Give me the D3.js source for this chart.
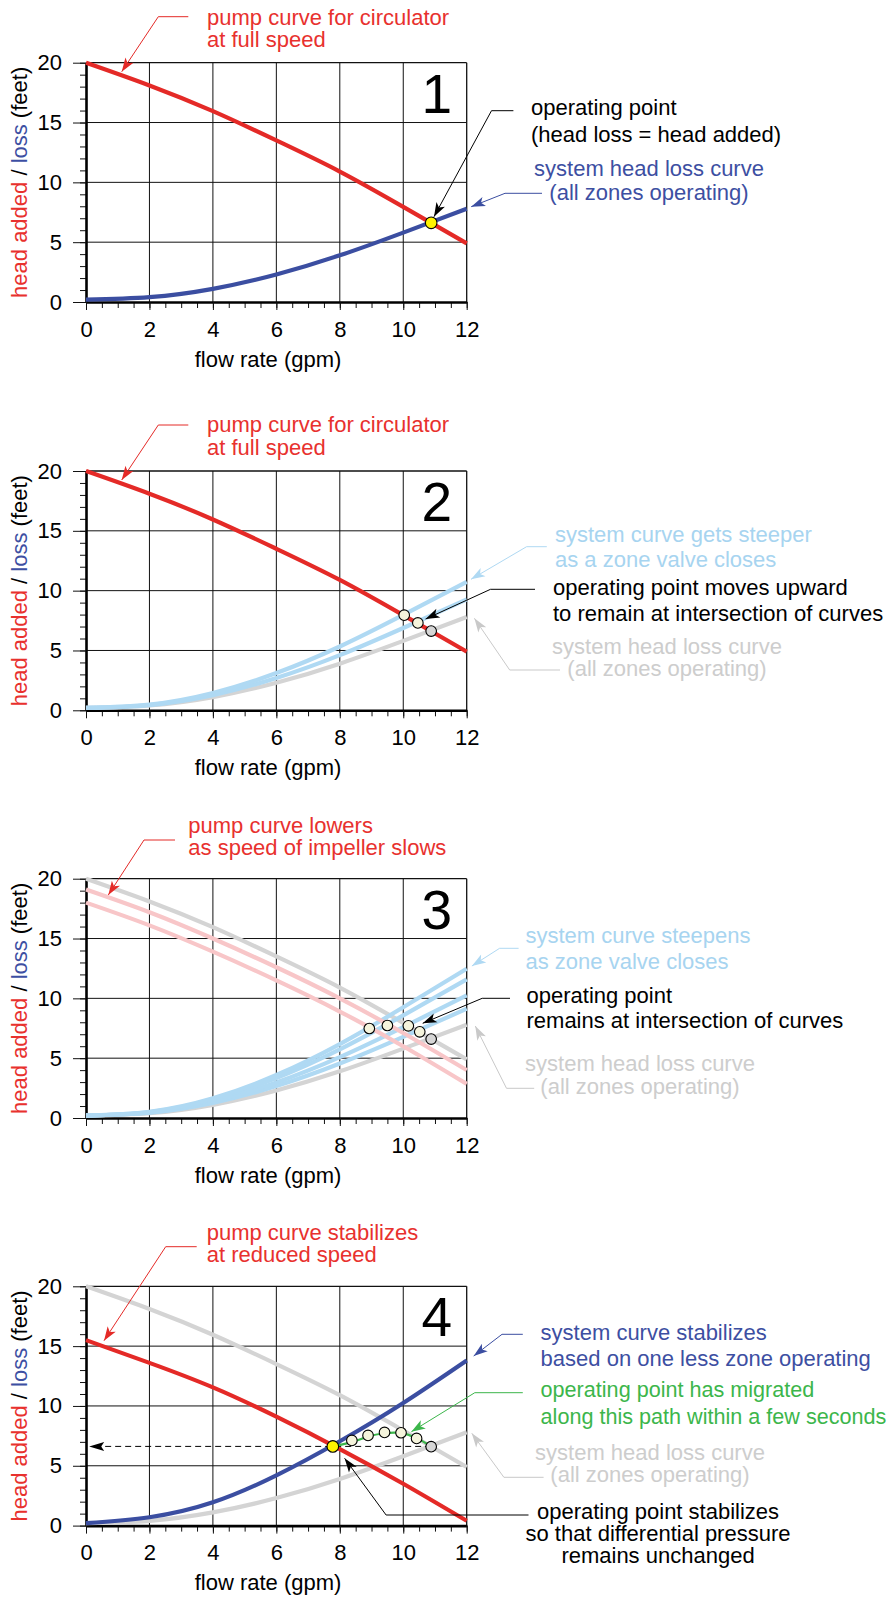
<!DOCTYPE html>
<html><head><meta charset="utf-8">
<script src="https://cdn.jsdelivr.net/npm/d3@7"></script>
<style>
body{margin:0;background:#fff}
text{font-family:"Liberation Sans", Arial, Helvetica, sans-serif;}
</style>
</head><body>
<svg id="c" width="891" height="1597"></svg>
<script>
// ---------------- data ----------------
const flow = [0, 2, 4, 6, 8, 10, 12];
const xTicks = [0, 2, 4, 6, 8, 10, 12];
const yTicks = [0, 5, 10, 15, 20];
const pumpFull    = [20, 18.1, 15.95, 13.5, 10.9, 7.95, 4.9];
const pumpSlow1   = [19.1, 17.2, 15.0, 12.6, 10.0, 7.1, 4.0];
const pumpSlow2   = [18.0, 16.1, 13.9, 11.5, 8.9, 6.0, 2.85];
const pumpReduced = [15.5, 13.6, 11.55, 9.1, 6.4, 3.5, 0.4];
const systemAll   = [0.2, 0.4, 1.1, 2.3, 3.9, 5.8, 7.8];
const systemP2a   = [0.2, 0.44, 1.27, 2.7, 4.61, 6.88, 9.26];
const systemP2b   = [0.2, 0.48, 1.45, 3.11, 5.33, 7.97, 10.74];
const systemP3a   = [0.2, 0.44, 1.26, 2.67, 4.55, 6.78, 9.13];
const systemP3b   = [0.2, 0.46, 1.39, 2.97, 5.09, 7.6, 10.24];
const systemP3c   = [0.2, 0.5, 1.55, 3.34, 5.74, 8.58, 11.58];
const systemP3d   = [0.2, 0.52, 1.65, 3.59, 6.18, 9.25, 12.48];
const systemOneLess = [0.2, 0.7, 1.95, 4.2, 7.05, 10.25, 13.8];
const opFlow1 = [10.88], opHead1 = [6.62];
const opFlow2 = [10.03, 10.46, 10.88], opHead2 = [7.95, 7.3, 6.62];
const opFlow3 = [8.93, 9.5, 10.16, 10.52, 10.88], opHead3 = [7.48, 7.73, 7.7, 7.2, 6.6];
const pathFlow4 = [8.38, 8.89, 9.41, 9.93, 10.42, 10.88], pathHead4 = [7.12, 7.54, 7.79, 7.76, 7.29, 6.6];
const greenFlow = [7.78, 8.4, 8.9, 9.4, 9.9, 10.4, 10.88];
const greenHead = [6.62, 7.0, 7.45, 7.72, 7.75, 7.35, 6.62];
const finalFlow4 = [7.78], finalHead4 = [6.62];

// ---------------- colours ----------------
const RED = "#e42a27", BLUE = "#3b4ea1", LBLUE = "#afd9f3", GREY = "#d4d4d4",
      PINK = "#f8c6c8", GREEN = "#3cb64b", CREAM = "#f5f4dc", CGREY = "#d6d6d6", YEL = "#fff200";
const TXT_RED = "#e8312e", TXT_BLUE = "#3d4fa2", TXT_LBLUE = "#a7d4f0", TXT_GREY = "#cdcdcd", TXT_GREEN = "#3cb64b";

const svg = d3.select("#c");
const X0 = 86, X1 = 466.7, PH = 239.3;
const tops = [62.7, 471, 878.7, 1286.3];
const x = d3.scaleLinear().domain([0, 12]).range([X0, X1]);

function leader(g, pts, color) {
  g.append("path").attr("d", d3.line()(pts)).attr("fill", "none")
    .attr("stroke", color).attr("stroke-width", 1);
  const [x1, y1] = pts[pts.length - 2], [x2, y2] = pts[pts.length - 1];
  const a = Math.atan2(y2 - y1, x2 - x1) * 180 / Math.PI;
  g.append("path").attr("d", "M0,0L-14,-4.8L-10.5,0L-14,4.8Z")
    .attr("transform", `translate(${x2},${y2}) rotate(${a})`).attr("fill", color);
}
function label(g, xx, yy, lines, color, anchor, lh, fs) {
  const t = g.append("text").attr("x", xx).attr("y", yy).attr("fill", color)
    .attr("font-size", fs || 22).attr("text-anchor", anchor || "start");
  lines.forEach((s, i) => t.append("tspan").attr("x", xx).attr("y", yy + i * lh).text(s));
}

function panel(i, num) {
  const T = tops[i];
  const y = d3.scaleLinear().domain([0, 20]).range([T + PH, T]);
  const g = svg.append("g");
  // grid
  g.append("g").selectAll("line").data(xTicks.filter(v => v > 0)).join("line")
    .attr("x1", d => x(d)).attr("x2", d => x(d)).attr("y1", y(0)).attr("y2", y(20))
    .attr("stroke", "#111").attr("stroke-width", d => d === 12 ? 1.3 : 1);
  g.append("g").selectAll("line").data(yTicks.filter(v => v > 0)).join("line")
    .attr("x1", x(0)).attr("x2", x(12)).attr("y1", d => y(d)).attr("y2", d => y(d))
    .attr("stroke", "#111").attr("stroke-width", d => d === 20 ? 1.3 : 1);
  // minor ticks
  const minY = d3.axisLeft(y).tickValues(d3.range(0, 20.01, 1)).tickSize(6).tickFormat("");
  g.append("g").attr("transform", `translate(${X0},0)`).call(minY)
    .call(a => a.select(".domain").remove()).selectAll("line").attr("stroke", "#111");
  const minX = d3.axisBottom(x).tickValues(d3.range(0, 12.01, 0.5)).tickSize(6).tickFormat("");
  g.append("g").attr("transform", `translate(0,${y(0)})`).call(minX)
    .call(a => a.select(".domain").remove()).selectAll("line").attr("stroke", "#111");
  // major axes
  const ay = g.append("g").attr("transform", `translate(${X0},0)`)
    .call(d3.axisLeft(y).tickValues(yTicks).tickSize(13).tickPadding(11).tickSizeOuter(0));
  const ax = g.append("g").attr("transform", `translate(0,${y(0)})`)
    .call(d3.axisBottom(x).tickValues(xTicks).tickSize(8).tickPadding(11).tickSizeOuter(0));
  [ay, ax].forEach(a => {
    a.selectAll("text").attr("font-size", 22).attr("fill", "#000")
      .attr("font-family", '"Liberation Sans", Arial, sans-serif');
    a.selectAll("line").attr("stroke", "#111");
    a.select(".domain").attr("stroke", "#000").attr("stroke-width", 2.6);
  });
  // axis titles
  const yt = g.append("text").attr("transform", `translate(26.5,${T + PH / 2}) rotate(-90)`)
    .attr("text-anchor", "middle").attr("font-size", 22);
  yt.append("tspan").attr("fill", TXT_RED).text("head added");
  yt.append("tspan").attr("fill", "#000").text(" / ");
  yt.append("tspan").attr("fill", TXT_BLUE).text("loss");
  yt.append("tspan").attr("fill", "#000").text(" (feet)");
  g.append("text").attr("x", 268).attr("y", y(0) + 64.7).attr("text-anchor", "middle")
    .attr("font-size", 22).text("flow rate (gpm)");
  // panel number
  g.append("text").attr("x", 452).attr("y", T + 50).attr("text-anchor", "end")
    .attr("font-size", 55).text(num);
  return { g, y, T };
}

function curve(g, y, vals, color, w) {
  const line = d3.line().x((d, i) => x(flow[i])).y(d => y(d)).curve(d3.curveNatural);
  g.append("path").attr("d", line(vals)).attr("fill", "none").attr("stroke", color)
    .attr("stroke-width", w || 4.2).attr("stroke-linecap", "butt");
}
function dots(g, y, xs, ys, fills, r) {
  g.append("g").selectAll("circle").data(xs).join("circle")
    .attr("cx", d => x(d)).attr("cy", (d, i) => y(ys[i])).attr("r", r || 5.3)
    .attr("fill", (d, i) => fills[i]).attr("stroke", "#000").attr("stroke-width", 1.1);
}

// ---------------- panel 1 ----------------
{
  const { g, y, T } = panel(0, "1");
  curve(g, y, pumpFull, RED);
  curve(g, y, systemAll, BLUE);
  dots(g, y, opFlow1, opHead1, [YEL], 5.8);
  label(g, 207, T - 38.2, ["pump curve for circulator", "at full speed"], TXT_RED, "start", 22.2);
  leader(g, [[188.3, T - 46], [158.3, T - 46], [121.7, T + 9]], RED);
  label(g, 531, T + 52.3, ["operating point", "(head loss = head added)"], "#000", "start", 26.7);
  leader(g, [[513.4, T + 48], [491.5, T + 48], [434, T + 154]], "#000");
  label(g, 649, T + 113.5, ["system head loss curve", "(all zones operating)"], TXT_BLUE, "middle", 23.8);
  leader(g, [[542, T + 130.6], [505, T + 130.6], [471.2, T + 144]], BLUE);
}
// ---------------- panel 2 ----------------
{
  const { g, y, T } = panel(1, "2");
  curve(g, y, systemAll, GREY);
  curve(g, y, systemP2a, LBLUE);
  curve(g, y, systemP2b, LBLUE);
  curve(g, y, pumpFull, RED);
  dots(g, y, opFlow2, opHead2, [CREAM, CREAM, CGREY]);
  label(g, 207, T - 38.7, ["pump curve for circulator", "at full speed"], TXT_RED, "start", 22.2);
  leader(g, [[188.3, T - 46], [158.3, T - 46], [121.7, T + 9]], RED);
  label(g, 555, T + 70.7, ["system curve gets steeper", "as a zone valve closes"], TXT_LBLUE, "start", 25);
  leader(g, [[546.8, T + 75.7], [526.6, T + 75.7], [471, T + 108.3]], LBLUE);
  label(g, 553, T + 124, ["operating point moves upward", "to remain at intersection of curves"], "#000", "start", 25.7);
  leader(g, [[535, T + 118.3], [490.5, T + 118.3], [425.6, T + 148]], "#000");
  label(g, 667, T + 182.5, ["system head loss curve", "(all zones operating)"], TXT_GREY, "middle", 22.8);
  leader(g, [[560, T + 199], [509.7, T + 199], [474.4, T + 147.3]], "#c9c9c9");
}
// ---------------- panel 3 ----------------
{
  const { g, y, T } = panel(2, "3");
  curve(g, y, pumpFull, GREY);
  curve(g, y, systemAll, GREY);
  [systemP3a, systemP3b, systemP3c, systemP3d].forEach(s => curve(g, y, s, LBLUE));
  curve(g, y, pumpSlow1, PINK);
  curve(g, y, pumpSlow2, PINK);
  dots(g, y, opFlow3, opHead3, [CREAM, CREAM, CREAM, CREAM, CGREY]);
  label(g, 188.3, T - 45.8, ["pump curve lowers", "as speed of impeller slows"], TXT_RED, "start", 22.4);
  leader(g, [[175, T - 38.7], [144, T - 38.7], [108.3, T + 16.3]], RED);
  label(g, 525.5, T + 64.6, ["system curve steepens", "as zone valve closes"], TXT_LBLUE, "start", 25.7);
  leader(g, [[518.6, T + 69.6], [499.6, T + 69.6], [471.9, T + 87.3]], LBLUE);
  label(g, 526.5, T + 124.6, ["operating point", "remains at intersection of curves"], "#000", "start", 25);
  leader(g, [[510, T + 119.6], [482.2, T + 119.6], [422.7, T + 144.6]], "#000");
  label(g, 640, T + 192.5, ["system head loss curve", "(all zones operating)"], TXT_GREY, "middle", 22.8);
  leader(g, [[534.2, T + 209.6], [506.5, T + 209.6], [475.3, T + 147.3]], "#c9c9c9");
}
// ---------------- panel 4 ----------------
{
  const { g, y, T } = panel(3, "4");
  curve(g, y, pumpFull, GREY);
  curve(g, y, systemAll, GREY);
  curve(g, y, systemOneLess, BLUE);
  curve(g, y, pumpReduced, RED);
  // dashed reference line to the axis
  g.append("line").attr("x1", x(pathFlow4[pathFlow4.length - 1])).attr("x2", x(0.35))
    .attr("y1", y(finalHead4[0])).attr("y2", y(finalHead4[0]))
    .attr("stroke", "#000").attr("stroke-width", 1).attr("stroke-dasharray", "6,4");
  g.append("path").attr("d", "M0,0L15,-4.5L12,0L15,4.5Z")
    .attr("transform", `translate(${x(0.1)},${y(finalHead4[0])})`).attr("fill", "#000");
  const gl = d3.line().x((d, i) => x(greenFlow[i])).y(d => y(d)).curve(d3.curveNatural);
  g.append("path").attr("d", gl(greenHead)).attr("fill", "none").attr("stroke", GREEN).attr("stroke-width", 2.2);
  dots(g, y, pathFlow4, pathHead4, [CREAM, CREAM, CREAM, CREAM, CREAM, CGREY]);
  dots(g, y, finalFlow4, finalHead4, [YEL], 5.8);
  label(g, 206.7, T - 46.2, ["pump curve stabilizes", "at reduced speed"], TXT_RED, "start", 22.2);
  leader(g, [[196.7, T - 39.6], [165.7, T - 39.6], [104, T + 54.4]], RED);
  label(g, 540.6, T + 53.7, ["system curve stabilizes", "based on one less zone operating"], TXT_BLUE, "start", 26);
  leader(g, [[522.8, T + 48], [502, T + 48], [473.7, T + 69.7]], BLUE);
  label(g, 540.6, T + 111, ["operating point has migrated", "along this path within a few seconds"], TXT_GREEN, "start", 26.7, 21.6);
  leader(g, [[522.8, T + 106.4], [474.8, T + 106.4], [411.4, T + 145.4]], GREEN);
  label(g, 650, T + 173.2, ["system head loss curve", "(all zones operating)"], TXT_GREY, "middle", 22.8);
  leader(g, [[543.6, T + 191], [503.9, T + 191], [471.8, T + 147]], "#c9c9c9");
  label(g, 658, T + 232.7, ["operating point stabilizes", "so that differential pressure", "remains unchanged"], "#000", "middle", 21.9);
  leader(g, [[528.5, T + 228.7], [386.1, T + 228.7], [344.6, T + 172]], "#000");
}
</script>
</body></html>
